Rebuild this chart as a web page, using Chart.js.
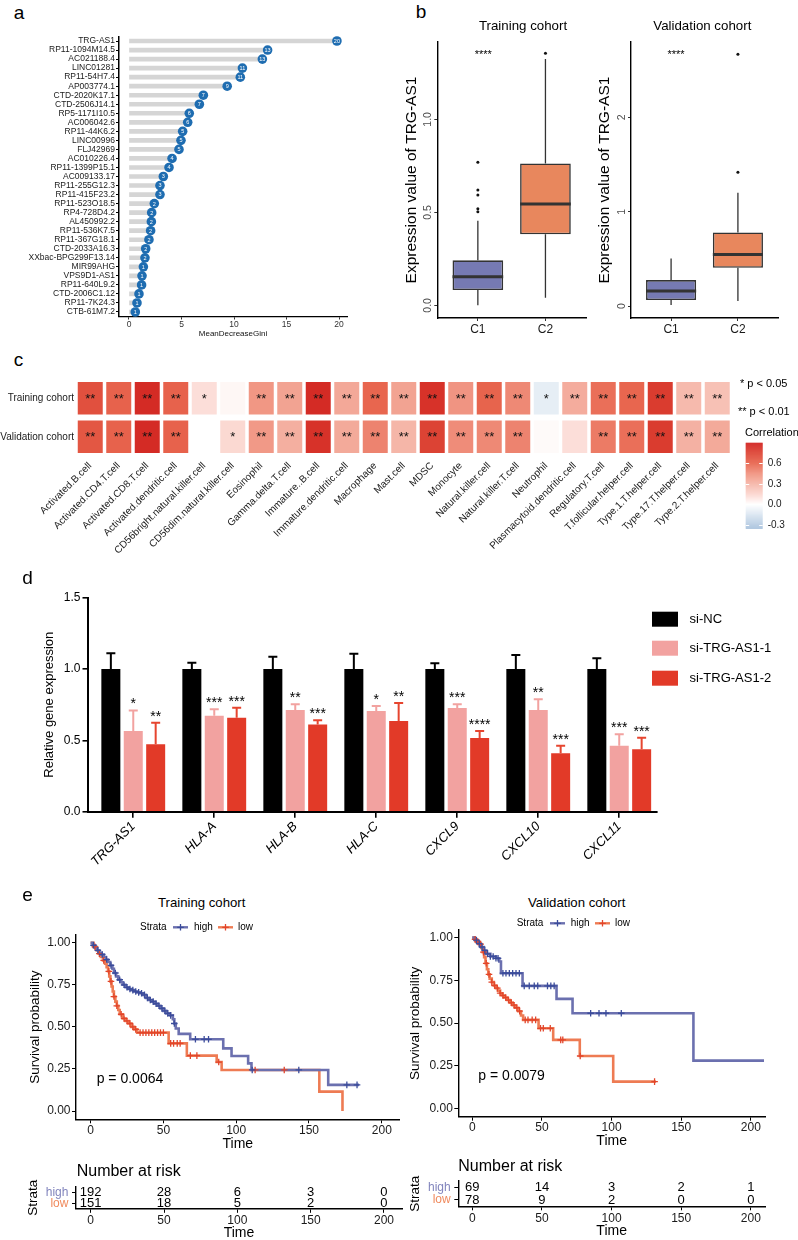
<!DOCTYPE html>
<html>
<head>
<meta charset="utf-8">
<script src="https://cdn.jsdelivr.net/npm/chart.js@4.4.1/dist/chart.umd.min.js"></script>
<style>
html,body{margin:0;padding:0;background:#fff;}
body{position:relative;width:798px;height:1240px;overflow:hidden;font-family:'Liberation Sans',Arial,Helvetica,sans-serif;}
canvas{position:absolute;}
.t{position:absolute;white-space:nowrap;line-height:1;color:#000;}
</style>
</head>
<body>
<script>
// ================= DATA =================
// Panel a
const lncNames = ['TRG-AS1','RP11-1094M14.5','AC021188.4','LINC01281','RP11-54H7.4','AP003774.1','CTD-2020K17.1','CTD-2506J14.1','RP5-1171I10.5','AC006042.6','RP11-44K6.2','LINC00996','FLJ42969','AC010226.4','RP11-1399P15.1','AC009133.17','RP11-255G12.3','RP11-415F23.2','RP11-523O18.5','RP4-728D4.2','AL450992.2','RP11-536K7.5','RP11-367G18.1','CTD-2033A16.3','XXbac-BPG299F13.14','MIR99AHG','VPS9D1-AS1','RP11-640L9.2','CTD-2006C1.12','RP11-7K24.3','CTB-61M7.2'];
const lncGini = [19.8,13.2,12.7,10.8,10.6,9.35,7.08,6.7,5.74,5.59,5.11,4.95,4.76,4.1,3.81,3.27,2.95,2.95,2.41,2.16,2.13,2.06,1.9,1.59,1.52,1.37,1.24,1.2,0.95,0.76,0.6];
const lncGiniLabels = ['20','13','13','11','11','9','7','7','6','6','5','5','5','4','4','3','3','3','2','2','2','2','2','2','2','1','1','1','1','1','1'];
const giniTicks = [0,5,10,15,20];

// Panel b
const boxGroups = ['C1','C2'];
const trainLow = [0.0, 0.041];
const trainQ1 = [0.082, 0.382];
const trainMed = [0.154, 0.545];
const trainQ3 = [0.242, 0.763];
const trainHigh = [0.455, 1.324];
const trainOutC1 = [0.503, 0.52, 0.593, 0.62, 0.769];
const trainOutC2 = [1.355];
const trainTicks = [0, 0.5, 1.0];
const trainTickLabels = ['0.0','0.5','1.0'];
const validLow = [0.01, 0.053];
const validQ1 = [0.063, 0.405];
const validMed = [0.159, 0.547];
const validQ3 = [0.275, 0.78];
const validHigh = [0.505, 1.2];
const validOutC1 = [];
const validOutC2 = [1.42, 2.67];
const validTicks = [0, 1, 2];
const validTickLabels = ['0','1','2'];

// Panel c
const cellTypes = ['Activated.B.cell','Activated.CD4.T.cell','Activated.CD8.T.cell','Activated.dendritic.cell','CD56bright.natural.killer.cell','CD56dim.natural.killer.cell','Eosinophil','Gamma.delta.T.cell','Immature..B.cell','Immature.dendritic.cell','Macrophage','Mast.cell','MDSC','Monocyte','Natural.killer.cell','Natural.killer.T.cell','Neutrophil','Plasmacytoid.dendritic.cell','Regulatory.T.cell','T.follicular.helper.cell','Type.1.T.helper.cell','Type.17.T.helper.cell','Type.2.T.helper.cell'];
const corrTrain = [0.70,0.62,0.86,0.62,0.12,0.03,0.43,0.38,0.86,0.36,0.60,0.38,0.83,0.44,0.61,0.48,-0.10,0.34,0.57,0.60,0.79,0.28,0.25];
const corrValid = [0.67,0.62,0.86,0.62,0.00,0.14,0.42,0.33,0.83,0.35,0.50,0.30,0.76,0.47,0.48,0.50,0.02,0.12,0.53,0.57,0.79,0.32,0.35];
const starsTrain = ['**','**','**','**','*','','**','**','**','**','**','**','**','**','**','**','*','**','**','**','**','**','**'];
const starsValid = ['**','**','**','**','','*','**','**','**','**','**','**','**','**','**','**','','','**','**','**','**','**'];
const corrLegendTicks = [0.6, 0.3, 0.0, -0.3];
const corrLegendRange = [-0.349, 0.903];

// Panel d
const genes = ['TRG-AS1','HLA-A','HLA-B','HLA-C','CXCL9','CXCL10','CXCL11'];
const siNC = [1,1,1,1,1,1,1];
const siNCErr = [1.11,1.044,1.086,1.107,1.04,1.098,1.075];
const si1 = [0.566,0.673,0.713,0.706,0.727,0.713,0.463];
const si1Err = [0.71,0.718,0.753,0.741,0.753,0.788,0.542];
const si1Stars = ['*','***','**','*','***','**','***'];
const si2 = [0.472,0.659,0.612,0.636,0.517,0.409,0.437];
const si2Err = [0.624,0.729,0.641,0.762,0.566,0.463,0.519];
const si2Stars = ['**','***','***','**','****','***','***'];
const exprTicks = [0,0.5,1.0,1.5];

// Panel e
const timeTicks = [0,50,100,150,200];
const survTicks = [0,0.25,0.5,0.75,1];
const trainHighT = [0,1.5,3,4.5,6,7.5,9,10.5,12,13.5,15,16,17.5,19,20.5,22,24,26,28,30,32,34,36,38,40,42,44,46,48,50,52,54.5,56.5,57.5,58.5,60.5,68.4,91.1,96.8,108.2,110.5,163.2,184.4];
const trainHighS = [1,.985,.97,.955,.94,.93,.915,.9,.885,.865,.845,.82,.8,.78,.765,.75,.735,.725,.718,.71,.705,.7,.69,.672,.66,.65,.638,.625,.61,.595,.58,.568,.545,.52,.49,.458,.426,.372,.327,.283,.244,.155,.155];
const trainLowT = [0,2,4,5.5,7,8.5,10,11,12,12.8,13.6,14.4,15.2,16,17,18,19,20,22,24,26,28,30,32,53.6,66.1,86.6,90,157.1,173];
const trainLowS = [1,.975,.955,.935,.915,.895,.875,.855,.83,.8,.77,.74,.71,.68,.65,.625,.6,.575,.55,.535,.52,.5,.485,.466,.402,.329,.291,.244,.115,0];
const trainHighCens = [2,5,8,11,14,17,20,23,25,27,29,31,33,35,37,39,41,43,45,47,49,51,53,55,57.5,72,78,81,111,143,176,183];
const trainLowCens = [3,6,9,12.5,14,16,18,21,23,25,27,29,31,34,36,38,40,42,44,46,48,50,55,57,59.5,61.5,68.5,73,88,113,133];
const validHighT = [0,2,4,6,8,10,13,17,19.4,20.6,36.1,60.5,72,158.8,209.5];
const validHighS = [1,.985,.965,.945,.925,.905,.89,.879,.86,.792,.718,.642,.558,.281,.281];
const validLowT = [0,1.5,3,5,6.5,7.5,8.5,9.5,10.5,11.5,12.5,14,15.5,17,18.5,20,21.5,23,25,27,29,31,33,35,36.5,47.6,58.1,77.2,101.2,131.8];
const validLowS = [1,.99,.975,.962,.94,.915,.885,.85,.815,.785,.76,.74,.72,.705,.69,.675,.662,.65,.635,.62,.605,.59,.57,.545,.519,.47,.402,.308,.158,.158];
const validHighCens = [3,5,7,9,11,13,15,17,18.5,22,24.2,26.6,29,31.4,33.8,37.3,40.9,44.5,47,54,56.4,58.8,85,91,96,107];
const validLowCens = [2,4,6,8,10,12,14,16,18,20,22,24,26,28,30,32,34,38,40,43,45.5,49,51,56,63.5,65,77.5,130.9];
const riskTimes = [0,50,100,150,200];
const riskTrainHigh = [192,28,6,3,0];
const riskTrainLow = [151,18,5,2,0];
const riskValidHigh = [69,14,3,2,1];
const riskValidLow = [78,9,2,0,0];

// ================= HELPERS =================
const F = "'Liberation Sans', Arial, Helvetica, sans-serif";
Chart.defaults.font.family = F;
Chart.defaults.color = '#000';
Chart.defaults.animation = false;
Chart.defaults.plugins.legend.display = false;
Chart.defaults.plugins.tooltip.enabled = false;
Chart.defaults.events = [];

function mk(b){ const c=document.createElement('canvas'); c.width=b.w; c.height=b.h;
  Object.assign(c.style,{left:b.x+'px',top:b.y+'px',width:b.w+'px',height:b.h+'px'});
  document.body.appendChild(c); return c; }
function frame(b,a){ return {pad:{left:0,top:a.t-b.y,right:b.x+b.w-a.r,bottom:0}, yw:a.l-b.x, xh:b.y+b.h-a.b}; }
const fixed = vals => s => { s.ticks = vals.map(v=>({value:v})); };
function make(b,cfg){ cfg.options = Object.assign({responsive:false,maintainAspectRatio:false,devicePixelRatio:1,animation:false}, cfg.options); return new Chart(mk(b),cfg); }
function txt(s,x,y,size,align,o){ o=o||{}; const d=document.createElement('div'); d.className='t'; d.textContent=s;
  d.style.fontSize=size+'px'; d.style.left=x+'px'; d.style.top=y+'px';
  const tx = align==='l'?'0':align==='r'?'-100%':'-50%';
  d.style.transform = o.rot ? `translate(-50%,-50%) rotate(${o.rot}deg)` : `translate(${tx},-50%)`;
  if(o.color) d.style.color=o.color; document.body.appendChild(d); }

// ================= PANEL A =================
const dotLabels = {id:'dotLabels', afterDatasetsDraw(chart){
  const ctx=chart.ctx, meta=chart.getDatasetMeta(0);
  ctx.save(); ctx.fillStyle='#fff'; ctx.font='5.5px '+F; ctx.textAlign='center'; ctx.textBaseline='middle';
  meta.data.forEach((p,i)=>ctx.fillText(lncGiniLabels[i], p.x, p.y+0.4));
  ctx.restore(); }};
(function(){
  const b={x:0,y:25,w:360,h:315}, a={l:119,r:347,t:36.5,b:316.5}, f=frame(b,a);
  make(b,{type:'bar', data:{labels:lncNames, datasets:[
    {type:'line', indexAxis:'y', data:lncGini, showLine:false, pointRadius:4.8, pointBackgroundColor:'#1f6db1', pointBorderWidth:0, order:0},
    {type:'bar', indexAxis:'y', data:lncGini.map(v=>[0,v]), backgroundColor:'#d5d5d5', barThickness:4, order:1}
  ]}, options:{indexAxis:'y', layout:{padding:f.pad}, scales:{
    x:{type:'linear', min:-0.952, max:20.76, offset:false, afterBuildTicks:fixed(giniTicks),
       ticks:{callback:v=>String(v), font:{size:8.5}, color:'#333', padding:0.5},
       grid:{drawOnChartArea:false, offset:false, tickLength:3, color:'#333'}, border:{color:'#000', width:1.3},
       title:{display:true, text:'MeanDecreaseGini', font:{size:8}, color:'#111', padding:{top:0,bottom:1.2}},
       afterFit:s=>{s.height=f.xh;}},
    y:{type:'category', offset:true, ticks:{autoSkip:false, font:{size:8.5}, color:'#1a1a1a', padding:1},
       grid:{drawOnChartArea:false, offset:false, tickLength:3, color:'#000'}, border:{color:'#000', width:1.5},
       afterFit:s=>{s.width=f.yw;}}
  }}, plugins:[dotLabels]});
})();

// ================= PANEL B =================
const rotY = {id:'rotY', afterDraw(chart,args,o){
  const ctx=chart.ctx, y=chart.scales.y; ctx.save(); ctx.fillStyle='#4d4d4d'; ctx.font='10.5px '+F;
  ctx.textAlign='center'; ctx.textBaseline='middle';
  y.ticks.forEach((t,i)=>{ const py=y.getPixelForValue(t.value); ctx.save(); ctx.translate(o.x,py); ctx.rotate(-Math.PI/2); ctx.fillText(o.labels[i],0,0); ctx.restore(); });
  ctx.restore(); }};
function boxChart(b,a,yr,ticks,tickLabels,lo,q1,md,q3,hi,outs,titlePad,labelX){
  const f=frame(b,a), half=0.375, whisk=[], meds=[], outPts=[];
  boxGroups.forEach((g,i)=>{ const x=i+1;
    whisk.push({x,y:lo[i]},{x,y:q1[i]},{x,y:null},{x,y:q3[i]},{x,y:hi[i]},{x,y:null});
    meds.push({x:x-half,y:md[i]},{x:x+half,y:md[i]},{x:x+half,y:null});
    outs[i].forEach(v=>outPts.push({x,y:v}));
  });
  make(b,{type:'bar', data:{datasets:[
    {type:'line', data:meds, borderColor:'#333', borderWidth:3, pointRadius:0, spanGaps:false, borderCapStyle:'butt', order:0},
    {type:'scatter', data:outPts, pointRadius:1.5, pointBackgroundColor:'#111', pointBorderWidth:0, order:0},
    {type:'bar', data:boxGroups.map((g,i)=>({x:i+1,y:[q1[i],q3[i]]})), backgroundColor:['#767ab3','#e8875d'], borderColor:'#333', borderWidth:1.6, borderSkipped:false, barPercentage:0.75, categoryPercentage:1, order:1},
    {type:'line', data:whisk, borderColor:'#333', borderWidth:1.3, pointRadius:0, spanGaps:false, order:2}
  ]}, options:{layout:{padding:f.pad}, scales:{
    x:{type:'linear', min:0.4, max:2.6, offset:false, afterBuildTicks:fixed([1,2]),
       ticks:{callback:v=>boxGroups[v-1], font:{size:12}, color:'#1a1a1a', padding:1},
       grid:{drawOnChartArea:false, offset:false, tickLength:3, color:'#333'}, border:{color:'#000', width:1.4},
       afterFit:s=>{s.height=f.xh;}},
    y:{type:'linear', min:yr[0], max:yr[1], afterBuildTicks:fixed(ticks), ticks:{display:false},
       grid:{drawOnChartArea:false, tickLength:3, color:'#333'}, border:{color:'#000', width:1.4},
       title:{display:true, text:'Expression value of TRG-AS1', font:{size:15.5}, color:'#000', padding:{top:titlePad,bottom:0}},
       afterFit:s=>{s.width=f.yw;}}
  }, plugins:{rotY:{x:labelX, labels:tickLabels}}}, plugins:[rotY]});
}
boxChart({x:360,y:30,w:232,h:318},{l:437.3,r:586,t:42,b:318},[-0.068,1.416],trainTicks,trainTickLabels,
  trainLow,trainQ1,trainMed,trainQ3,trainHigh,[trainOutC1,trainOutC2],42.7,428-360);
boxChart({x:592,y:30,w:200,h:318},{l:631,r:778,t:42,b:318},[-0.127,2.80],validTicks,validTickLabels,
  validLow,validQ1,validMed,validQ3,validHigh,[validOutC1,validOutC2],3.7,621.7-592);

// ================= PANEL C =================
const corrStops = [[-0.35,[169,195,221]],[0,[255,255,255]],[0.15,[251,214,207]],[0.3,[245,182,168]],[0.45,[240,146,127]],[0.6,[232,102,79]],[0.75,[221,69,53]],[0.9,[209,34,31]]];
function corrColor(v){
  if(v<=corrStops[0][0]) return 'rgb('+corrStops[0][1].join(',')+')';
  for(let i=1;i<corrStops.length;i++){ const [v1,c1]=corrStops[i], [v0,c0]=corrStops[i-1];
    if(v<=v1){ const t=(v-v0)/(v1-v0); return 'rgb('+c0.map((c,k)=>Math.round(c+(c1[k]-c)*t)).join(',')+')'; } }
  return 'rgb('+corrStops[corrStops.length-1][1].join(',')+')';
}
const heatStars = {id:'heatStars', afterDatasetsDraw(chart){
  const ctx=chart.ctx; ctx.save(); ctx.fillStyle='#111'; ctx.font='13px '+F; ctx.textAlign='center'; ctx.textBaseline='middle';
  [starsTrain,starsValid].forEach((st,di)=>{ chart.getDatasetMeta(di).data.forEach((el,i)=>{ if(st[i]) ctx.fillText(st[i], el.x, (el.y+el.base)/2+1); }); });
  ctx.restore(); }};
const colorBar = {id:'colorBar', afterDraw(chart,args,o){
  const ctx=chart.ctx; const x0=o.x, w=o.w, y0=o.top, y1=o.bottom;
  const [vmin,vmax]=corrLegendRange; const pix=v=> y1 - (v-vmin)/(vmax-vmin)*(y1-y0);
  ctx.save();
  for(let y=y0;y<y1;y+=1){ const v = vmax - (y+0.5-y0)/(y1-y0)*(vmax-vmin); ctx.fillStyle=corrColor(v); ctx.fillRect(x0,y,w,1.2); }
  ctx.strokeStyle='#fff'; ctx.lineWidth=1; ctx.fillStyle='#1a1a1a'; ctx.font='10px '+F; ctx.textAlign='left'; ctx.textBaseline='middle';
  corrLegendTicks.forEach(v=>{ const py=Math.round(pix(v))+0.5; ctx.beginPath(); ctx.moveTo(x0,py); ctx.lineTo(x0+3.5,py); ctx.moveTo(x0+w-3.5,py); ctx.lineTo(x0+w,py); ctx.stroke();
    ctx.fillText(v.toFixed(1).replace('-0.0','0.0'), x0+w+5, py); });
  ctx.restore(); }};
(function(){
  const b={x:0,y:370,w:798,h:235}, a={l:76,r:731.5,t:379,b:456}, f=frame(b,a);
  make(b,{type:'bar', data:{labels:cellTypes, datasets:[
    {label:'Training cohort', data:corrTrain.map(()=>[1.075,1.925]), backgroundColor:corrTrain.map(corrColor), grouped:false, barPercentage:0.877, categoryPercentage:1},
    {label:'Validation cohort', data:corrValid.map(()=>[0.075,0.925]), backgroundColor:corrValid.map(corrColor), grouped:false, barPercentage:0.877, categoryPercentage:1}
  ]}, options:{layout:{padding:f.pad}, scales:{
    x:{type:'category', offset:true, grid:{display:false, drawTicks:false, tickLength:0}, border:{display:false},
       ticks:{autoSkip:false, minRotation:45, maxRotation:45, font:{size:10}, color:'#1a1a1a', padding:4},
       afterFit:s=>{s.height=f.xh;}},
    y:{type:'linear', min:0, max:2, afterBuildTicks:fixed([0.5,1.5]),
       ticks:{callback:v=>v>1?'Training cohort':'Validation cohort', font:{size:10}, color:'#1a1a1a', padding:2},
       grid:{display:false, drawTicks:false, tickLength:0}, border:{display:false}, afterFit:s=>{s.width=f.yw;}}
  }, plugins:{colorBar:{x:745.7, w:17, top:442.7-370, bottom:528.3-370}}}, plugins:[heatStars,colorBar]});
})();

// ================= PANEL D =================
const errBars = {id:'errBars', afterDatasetsDraw(chart){
  const ctx=chart.ctx, y=chart.scales.y; ctx.save(); ctx.font='14px '+F; ctx.textAlign='center'; ctx.textBaseline='alphabetic';
  chart.data.datasets.forEach((ds,di)=>{ chart.getDatasetMeta(di).data.forEach((bar,i)=>{
    const top=y.getPixelForValue(ds.errTop[i]);
    ctx.strokeStyle=ds.errColor; ctx.lineWidth=2;
    ctx.beginPath(); ctx.moveTo(bar.x,bar.y); ctx.lineTo(bar.x,top); ctx.moveTo(bar.x-4.5,top); ctx.lineTo(bar.x+4.5,top); ctx.stroke();
    if(ds.stars && ds.stars[i]){ ctx.fillStyle='#000'; ctx.fillText(ds.stars[i], bar.x, top-2); }
  }); });
  ctx.restore(); }};
const barLegend = {id:'barLegend', afterDraw(chart,args,o){
  const ctx=chart.ctx; ctx.save(); ctx.font='13px '+F; ctx.textAlign='left'; ctx.textBaseline='middle';
  chart.data.datasets.forEach((ds,i)=>{ const yy=o.y[i]; ctx.fillStyle=ds.backgroundColor; ctx.fillRect(o.x,yy,26,15); ctx.fillStyle='#000'; ctx.fillText(ds.label,o.tx,yy+7.5); });
  ctx.restore(); }};
(function(){
  const b={x:0,y:585,w:798,h:300}, a={l:87.5,r:656.5,t:597.7,b:811.7}, f=frame(b,a);
  const pts = arr => arr.map((v,i)=>({x:i+1,y:v}));
  const common = {barPercentage:0.848, categoryPercentage:0.83, borderWidth:0};
  make(b,{type:'bar', data:{datasets:[
    Object.assign({label:'si-NC', data:pts(siNC), backgroundColor:'#000000', errTop:siNCErr, errColor:'#000000'},common),
    Object.assign({label:'si-TRG-AS1-1', data:pts(si1), backgroundColor:'#f2a2a0', errTop:si1Err, errColor:'#f2a2a0', stars:si1Stars},common),
    Object.assign({label:'si-TRG-AS1-2', data:pts(si2), backgroundColor:'#e23a28', errTop:si2Err, errColor:'#e6452f', stars:si2Stars},common)
  ]}, options:{layout:{padding:f.pad}, scales:{
    x:{type:'linear', min:0.435, max:7.46, offset:false, afterBuildTicks:fixed([1,2,3,4,5,6,7]),
       ticks:{callback:v=>genes[v-1], font:{size:13,style:'italic'}, color:'#000', minRotation:45, maxRotation:45, padding:1},
       grid:{drawOnChartArea:false, offset:false, tickLength:6, color:'#000', lineWidth:1.6}, border:{color:'#000', width:2},
       afterFit:s=>{s.height=f.xh;}},
    y:{type:'linear', min:0, max:1.5, afterBuildTicks:fixed(exprTicks),
       ticks:{callback:v=>v.toFixed(1), font:{size:12}, color:'#000', padding:2},
       grid:{drawOnChartArea:false, tickLength:5, color:'#000', lineWidth:1.6}, border:{color:'#000', width:2},
       title:{display:true, text:'Relative gene expression', font:{size:13}, padding:{top:41.4,bottom:0}},
       afterFit:s=>{s.width=f.yw;}}
  }, plugins:{barLegend:{x:652, tx:689.6, y:[611.7-585, 640.7-585, 670.7-585]}}}, plugins:[errBars,barLegend]});
})();

// ================= PANEL E =================
const HI='#6b70af', HI_M='#3b4c9b', LO='#ee7b53', LO_M='#e2452b', HI_T='#8285bd', LO_T='#f08a5d';
function stepPts(T,S){ return T.map((t,i)=>({x:t,y:S[i]})); }
function survAt(T,S,t){ let s=S[0]; for(let i=0;i<T.length;i++){ if(T[i]<=t) s=S[i]; } return s; }
const kmLegend = {id:'kmLegend', afterDraw(chart,args,o){
  const ctx=chart.ctx; ctx.save(); ctx.font='10px '+F; ctx.textBaseline='middle'; ctx.textAlign='left'; ctx.fillStyle='#000';
  ctx.fillText('Strata', o.sx, o.y);
  [0,1].forEach(k=>{ const ds=chart.data.datasets[k], mk=chart.data.datasets[k+2].borderColor, lx=o.lx[k];
    ctx.strokeStyle=ds.borderColor; ctx.lineWidth=2.4; ctx.beginPath(); ctx.moveTo(lx,o.y); ctx.lineTo(lx+15,o.y); ctx.stroke();
    ctx.strokeStyle=mk; ctx.lineWidth=1.3; ctx.beginPath(); ctx.moveTo(lx+7.5,o.y-3.3); ctx.lineTo(lx+7.5,o.y+3.3); ctx.moveTo(lx+4.2,o.y); ctx.lineTo(lx+10.8,o.y); ctx.stroke();
    ctx.fillStyle='#000'; ctx.fillText(ds.label, o.tx[k], o.y); });
  ctx.restore(); }};
function axisCommon(){ return {grid:{drawOnChartArea:false, tickLength:4, color:'#000'}, border:{color:'#000', width:1.4}}; }
function kmChart(b,a,xr,yr,hiT,hiS,loT,loS,hiC,loC,lg,yPad,xPad){
  const f=frame(b,a);
  make(b,{type:'line', data:{datasets:[
    {label:'high', data:stepPts(hiT,hiS), borderColor:HI, borderWidth:2.6, stepped:true, pointRadius:0, fill:false, order:2},
    {label:'low', data:stepPts(loT,loS), borderColor:LO, borderWidth:2.6, stepped:true, pointRadius:0, fill:false, order:2},
    {type:'scatter', data:hiC.map(t=>({x:t,y:survAt(hiT,hiS,t)})), pointStyle:'cross', pointRadius:3.3, borderColor:HI_M, pointBorderColor:HI_M, pointBorderWidth:1.3, order:1},
    {type:'scatter', data:loC.map(t=>({x:t,y:survAt(loT,loS,t)})), pointStyle:'cross', pointRadius:3.3, borderColor:LO_M, pointBorderColor:LO_M, pointBorderWidth:1.3, order:1}
  ]}, options:{layout:{padding:f.pad}, scales:{
    x:Object.assign(axisCommon(),{type:'linear', min:xr[0], max:xr[1], afterBuildTicks:fixed(timeTicks),
       ticks:{callback:v=>String(v), font:{size:12}, color:'#1a1a1a', padding:0},
       title:{display:true, text:'Time', font:{size:14}, padding:{top:0,bottom:xPad}}, afterFit:s=>{s.height=f.xh;}}),
    y:Object.assign(axisCommon(),{type:'linear', min:yr[0], max:yr[1], afterBuildTicks:fixed(survTicks),
       ticks:{callback:v=>v.toFixed(2), font:{size:12}, color:'#1a1a1a', padding:1.5},
       title:{display:true, text:'Survival probability', font:{size:13.5}, padding:{top:yPad,bottom:0}}, afterFit:s=>{s.width=f.yw;}})
  }, plugins:{kmLegend:lg}}, plugins:[kmLegend]});
}
const riskText = {id:'riskText', afterDatasetsDraw(chart){
  const ctx=chart.ctx; ctx.save(); ctx.font='13px '+F; ctx.fillStyle='#000'; ctx.textAlign='center'; ctx.textBaseline='middle';
  chart.data.datasets.forEach((ds,di)=>{ chart.getDatasetMeta(di).data.forEach((p,i)=>ctx.fillText(String(ds.counts[i]), p.x, p.y)); });
  ctx.restore(); }};
function riskChart(b,a,xr,hiCounts,loCounts,yPad,xPad){
  const f=frame(b,a);
  make(b,{type:'scatter', data:{datasets:[
    {data:riskTimes.map(t=>({x:t,y:'high'})), counts:hiCounts, pointRadius:0},
    {data:riskTimes.map(t=>({x:t,y:'low'})), counts:loCounts, pointRadius:0}
  ]}, options:{layout:{padding:f.pad}, scales:{
    x:Object.assign(axisCommon(),{type:'linear', min:xr[0], max:xr[1], afterBuildTicks:fixed(timeTicks),
       ticks:{callback:v=>String(v), font:{size:12}, color:'#1a1a1a', padding:1},
       title:{display:true, text:'Time', font:{size:14}, padding:{top:0,bottom:xPad}}, afterFit:s=>{s.height=f.xh;}}),
    y:Object.assign(axisCommon(),{type:'category', labels:['high','low'], offset:true,
       ticks:{autoSkip:false, font:{size:12}, color:c=>c.index===0?HI_T:LO_T, padding:3.6},
       title:{display:true, text:'Strata', font:{size:13.5}, padding:{top:yPad,bottom:0}}, afterFit:s=>{s.width=f.yw;}})
  }}, plugins:[riskText]});
}
kmChart({x:0,y:915,w:405,h:240},{l:76,r:402,t:935,b:1119.3},[-10.03,212.3],[-0.0493,1.0458],
  trainHighT,trainHighS,trainLowT,trainLowS,trainHighCens,trainLowCens,{sx:140,y:927.3-915,lx:[173,218],tx:[194,238]},26.9,2.3);
riskChart({x:0,y:1160,w:405,h:85},{l:76,r:402,t:1186.8,b:1208.8},[-10.03,212.3],riskTrainHigh,riskTrainLow,25.2,3.3);
kmChart({x:405,y:912,w:393,h:240},{l:458.3,r:765,t:930,b:1116.7},[-10.04,210.2],[-0.0468,1.0445],
  validHighT,validHighS,validLowT,validLowS,validHighCens,validLowCens,{sx:516.7-405,y:923.3-912,lx:[550-405,595-405],tx:[570.7-405,615-405]},1.9,2.9);
riskChart({x:405,y:1158,w:393,h:87},{l:458.3,r:765,t:1181,b:1206.3},[-10.04,210.2],riskValidHigh,riskValidLow,1.9,5.9);

// ================= TEXT =================
txt('a',19,11.5,19); txt('b',421,11,19); txt('c',18.5,358.5,19); txt('d',27.5,577,19); txt('e',27.5,894,19);
txt('Training cohort',523,26,13.3); txt('Validation cohort',702.3,26,13.3);
txt('****',483.3,54,11); txt('****',676,54,11);
txt('* p < 0.05',740,383,11,'l'); txt('** p < 0.01',738,410.7,11,'l'); txt('Correlation',745,431.7,11,'l');
txt('Training cohort',201.7,903.3,13.2); txt('Validation cohort',576.7,903.3,13.2);
txt('p = 0.0064',96.7,1078,14,'l'); txt('p = 0.0079',478.3,1075,14,'l');
txt('Number at risk',76.7,1170.7,16,'l'); txt('Number at risk',458.3,1166,16,'l');
</script>
</body>
</html>
